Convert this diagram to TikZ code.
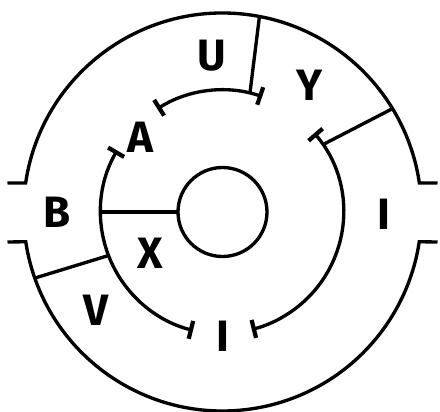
\documentclass[tikz,border=0pt]{standalone}
\usepackage{fontspec}
\setmainfont{Fira Sans}
\usetikzlibrary{arrows.meta}

\begin{document}
\begin{tikzpicture}[x=0.02cm, y=0.02cm, line width=1.9pt,
    lbl/.style={font=\fontsize{25}{30}\selectfont\bfseries, inner sep=0pt},
    seg/.style={{Bar[width=0.37cm, line width=2.4pt]}-{Bar[width=0.37cm, line width=2.4pt]}}]
    \useasboundingbox (-222.5,-200) rectangle (217.5,212);

    % Centre and circle ends
    \coordinate (c) at (0,0);
    \coordinate (core) at (180:44.5);
    \coordinate (midL) at (180:122);
    \coordinate (midU) at (77:122);
    \coordinate (midY) at (33.8:122);
    \coordinate (midV) at (200.9:122);
    \coordinate (outU) at (79.3:199);
    \coordinate (outY) at (31.3:199);
    \coordinate (outV) at (199.4:199);

    % Outer ring, open at both sides
    \draw (-215,29) -- (171.6:199) arc[start angle=171.6, end angle=8.4, radius=199] -- (215,29);
    \draw (-215,-30) -- (188.6:199) arc[start angle=188.6, end angle=351.4, radius=199] -- (215,-30);

    % Middle ring pieces
    \draw[seg] (149.7:122) arc[start angle=149.7, end angle=256, radius=122];
    \draw[seg] (122.3:122) arc[start angle=122.3, end angle=71, radius=122];
    \draw[seg] (40.7:121) arc[start angle=40.7, end angle=-76, radius=121];

    % Inner circle
    \draw (c) circle[radius=44.5];

    % Walls
    \draw (outU) -- (midU);
    \draw (outY) -- (midY);
    \draw (outV) -- (midV);
    \draw (midL) -- (core);

    % Labels
    \node[lbl] (u) at (-10.5,156) {U};
    \node[lbl] (y) at (87.5,127) {Y};
    \node[lbl] (a) at (-82.5,74.5) {A};
    \node[lbl] (b) at (-165,-0.5) {B};
    \node[lbl] (x) at (-72,-41.5) {X};
    \node[lbl] (v) at (-126.5,-98) {V};
    \node[lbl] (i1) at (161.5,-2) {I};
    \node[lbl] (i2) at (0.5,-124) {I};
\end{tikzpicture}
\end{document}
